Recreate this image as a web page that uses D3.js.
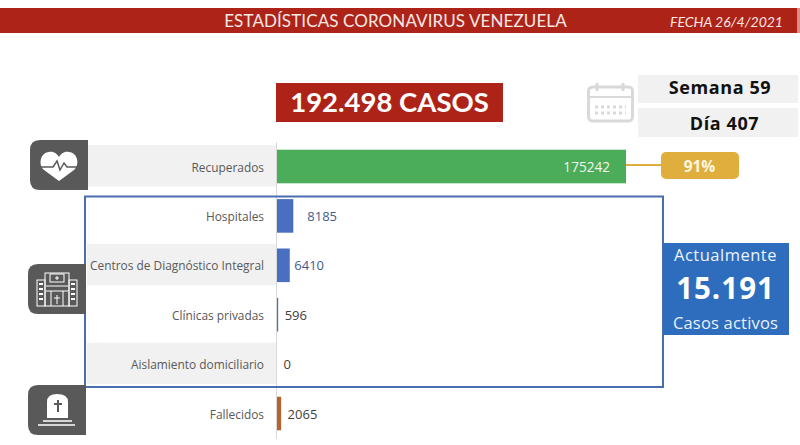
<!DOCTYPE html>
<html>
<head>
<meta charset="utf-8">
<script src="https://cdn.jsdelivr.net/npm/d3@7"></script>
<style>
  html, body { margin: 0; padding: 0; background: #fff; }
  svg { display: block; }
  text { font-family: "Open Sans", sans-serif; }
  .cal { font-family: Lato, sans-serif; }
</style>
</head>
<body>
<svg id="chart" width="800" height="445"></svg>
<script>
// chart values
var categories = ["Recuperados", "Hospitales", "Centros de Diagnóstico Integral", "Clínicas privadas", "Aislamiento domiciliario", "Fallecidos"];
var values = [175242, 8185, 6410, 596, 0, 2065];
var barColors = ["#4bac5a", "#4a6fc1", "#4a6fc1", "#4a6fc1", "#4a6fc1", "#b9622d"];
var labelColors = ["#f2f7ee", "#3f5b8c", "#3f5b8c", "#404040", "#404040", "#404040"];

var svg = d3.select("#chart");

var x = d3.scaleLinear().domain([0, 175242]).range([277, 626]);
var y = d3.scaleBand().domain(categories).range([141.8, 438.2]).paddingInner(0.32).paddingOuter(0.16);

// header
svg.append("rect").attr("x", 0).attr("y", 8).attr("width", 797).attr("height", 25).attr("fill", "#ae2317");
svg.append("rect").attr("x", 797).attr("y", 8).attr("width", 3).attr("height", 25).attr("fill", "#d98f86");
svg.append("text").attr("class", "cal").attr("x", 395.5).attr("y", 27).attr("text-anchor", "middle")
  .attr("font-size", 17).attr("fill", "#f7e9e6").attr("letter-spacing", 0.1).text("ESTADÍSTICAS CORONAVIRUS VENEZUELA");
svg.append("text").attr("class", "cal").attr("x", 783).attr("y", 26.5).attr("text-anchor", "end")
  .attr("font-size", 14).attr("font-style", "italic").attr("fill", "#f7e9e6").text("FECHA 26/4/2021");

// total cases
svg.append("rect").attr("x", 276).attr("y", 83).attr("width", 227).attr("height", 39).attr("fill", "#ae2317");
svg.append("text").attr("class", "cal").attr("x", 389.5).attr("y", 112).attr("text-anchor", "middle")
  .attr("font-size", 27.5).attr("font-weight", 700).attr("fill", "#fff").text("192.498 CASOS");

// week and day
svg.append("rect").attr("x", 638).attr("y", 75).attr("width", 160).attr("height", 28).attr("fill", "#f1f1f1");
svg.append("rect").attr("x", 638).attr("y", 108).attr("width", 160).attr("height", 29).attr("fill", "#f1f1f1");
svg.append("text").attr("x", 720).attr("y", 94).attr("text-anchor", "middle").attr("letter-spacing", 0.6)
  .attr("font-size", 18).attr("font-weight", 700).attr("fill", "#111").text("Semana 59");
svg.append("text").attr("x", 724.5).attr("y", 130).attr("text-anchor", "middle").attr("letter-spacing", 0.6)
  .attr("font-size", 18).attr("font-weight", 700).attr("fill", "#111").text("Día 407");

// calendar icon
var cal = svg.append("g").attr("fill", "none").attr("stroke", "#d9d9d9");
cal.append("rect").attr("x", 588.5).attr("y", 87).attr("width", 44).attr("height", 34).attr("rx", 4).attr("stroke-width", 3);
cal.append("line").attr("x1", 588).attr("x2", 633).attr("y1", 97).attr("y2", 97).attr("stroke-width", 2);
cal.append("path").attr("d", "M597 83V91M623 83V91").attr("stroke-width", 3);
cal.append("path").attr("d", "M595 107H626M595 113H626").attr("stroke-width", 3).attr("stroke-dasharray", "3 3");

// alternating row backgrounds
svg.append("g").selectAll("rect")
  .data(categories.filter(function(d, i) { return i % 2 == 0 && i < 5; }))
  .enter().append("rect")
  .attr("x", 87).attr("width", 190)
  .attr("y", function(d) { return y(d) + y.bandwidth() / 2 - 21.5; })
  .attr("height", 41.5)
  .attr("fill", "#f1f1f1");

// category axis, under the bars so the thin ones still show
var axis = svg.append("g").attr("transform", "translate(" + (x(0) - 1) + ",0)")
  .call(d3.axisLeft(y).tickSize(0).tickPadding(12));
axis.select(".domain").attr("stroke", "#d9d9d9").attr("stroke-width", 1);
axis.selectAll("text").style("font-family", "'Open Sans', sans-serif").attr("font-size", 11.9).attr("fill", "#595959").attr("dy", "0.42em");

// bars
svg.append("g").selectAll("rect")
  .data(categories)
  .enter().append("rect")
  .attr("x", x(0))
  .attr("y", function(d) { return y(d); })
  .attr("width", function(d, i) { return x(values[i]) - x(0); })
  .attr("height", y.bandwidth())
  .attr("fill", function(d, i) { return barColors[i]; });

// value labels
svg.append("g").selectAll("text")
  .data(categories)
  .enter().append("text")
  .attr("x", function(d, i) {
    if (i == 0) return x(values[i]) - 16;
    return x(values[i]) + (i == 1 ? 14 : i == 2 ? 4.5 : 6.5);
  })
  .attr("y", function(d) { return y(d) + y.bandwidth() / 2 + 5; })
  .attr("text-anchor", function(d, i) { return i == 0 ? "end" : "start"; })
  .attr("font-size", function(d, i) { return i == 0 ? 13.6 : 13; })
  .attr("fill", function(d, i) { return labelColors[i]; })
  .text(function(d, i) { return values[i]; });

// percent badge
svg.append("line").attr("x1", x(175242)).attr("x2", 662).attr("y1", 165).attr("y2", 165).attr("stroke", "#dfae3c").attr("stroke-width", 2);
svg.append("rect").attr("x", 661).attr("y", 152).attr("width", 78).attr("height", 27).attr("rx", 5).attr("fill", "#dfae3c");
svg.append("text").attr("x", 699.5).attr("y", 172).attr("text-anchor", "middle")
  .attr("font-size", 15.5).attr("font-weight", 700).attr("fill", "#fff6e0").text("91%");

// active cases frame
svg.append("rect").attr("x", 85).attr("y", 196.5).attr("width", 578).attr("height", 190.5)
  .attr("fill", "none").attr("stroke", "#4a6cb0").attr("stroke-width", 2);

// active cases box
svg.append("rect").attr("x", 663).attr("y", 243).attr("width", 126).attr("height", 92).attr("fill", "#2e6dbd");
svg.append("text").attr("x", 725.5).attr("y", 261).attr("text-anchor", "middle").attr("font-size", 16.5).attr("letter-spacing", 0.5).attr("fill", "#eaf2fb").text("Actualmente");
svg.append("text").attr("x", 725.5).attr("y", 299).attr("text-anchor", "middle").attr("font-size", 29.5).attr("letter-spacing", 1).attr("font-weight", 700).attr("fill", "#fff").text("15.191");
svg.append("text").attr("x", 725.5).attr("y", 329).attr("text-anchor", "middle").attr("font-size", 16.5).attr("letter-spacing", 0.2).attr("fill", "#eaf2fb").text("Casos activos");

// icon boxes
function iconBox(bx, by, bw, bh) {
  var r = 10;
  svg.append("path")
    .attr("d", "M" + (bx + bw) + " " + by + "H" + (bx + r) + "Q" + bx + " " + by + " " + bx + " " + (by + r) +
      "V" + (by + bh - r) + "Q" + bx + " " + (by + bh) + " " + (bx + r) + " " + (by + bh) + "H" + (bx + bw) + "Z")
    .attr("fill", "#595959");
}
iconBox(30, 140, 58, 50);
iconBox(28, 264, 58, 50);
iconBox(28, 385, 58, 50);

// heart icon
svg.append("path")
  .attr("d", "M59 181L44 170C38 165 40 153 49 152C54 151 57 154 59 157C61 154 64 151 69 152C78 153 80 165 74 170Z")
  .attr("fill", "#fff");
svg.append("path")
  .attr("d", "M41 167H53L57 161L60 170L64 163L67 167H78")
  .attr("fill", "none").attr("stroke", "#595959").attr("stroke-width", 1.5);

// hospital icon
var hosp = svg.append("g").attr("fill", "none").attr("stroke", "#fff").attr("stroke-width", 1);
hosp.append("rect").attr("x", 45).attr("y", 273).attr("width", 24).attr("height", 33);
hosp.append("rect").attr("x", 37).attr("y", 280).attr("width", 8).attr("height", 26);
hosp.append("rect").attr("x", 69).attr("y", 280).attr("width", 8).attr("height", 26);
hosp.append("rect").attr("x", 50).attr("y", 274).attr("width", 14).attr("height", 8);
hosp.append("path").attr("d", "M57 276V280M55 278H59M46 286H68M46 291H68M51 291V306M63 291V306M57 295V304M54 298H60");
hosp.append("path").attr("d", "M39 284H43M39 289H43M39 294H43M39 299H43M71 284H75M71 289H75M71 294H75M71 299H75").attr("stroke-width", 2);

// tombstone icon
svg.append("path").attr("d", "M47 418V402Q47 394 57 394Q68 394 68 402V418Z").attr("fill", "#fff");
svg.append("path").attr("d", "M58 400V412M54 404H62").attr("stroke", "#595959").attr("stroke-width", 2).attr("fill", "none");
svg.append("path").attr("d", "M43 421H72M38 425H75").attr("stroke", "#fff").attr("stroke-width", 1.5).attr("fill", "none");
</script>
</body>
</html>
